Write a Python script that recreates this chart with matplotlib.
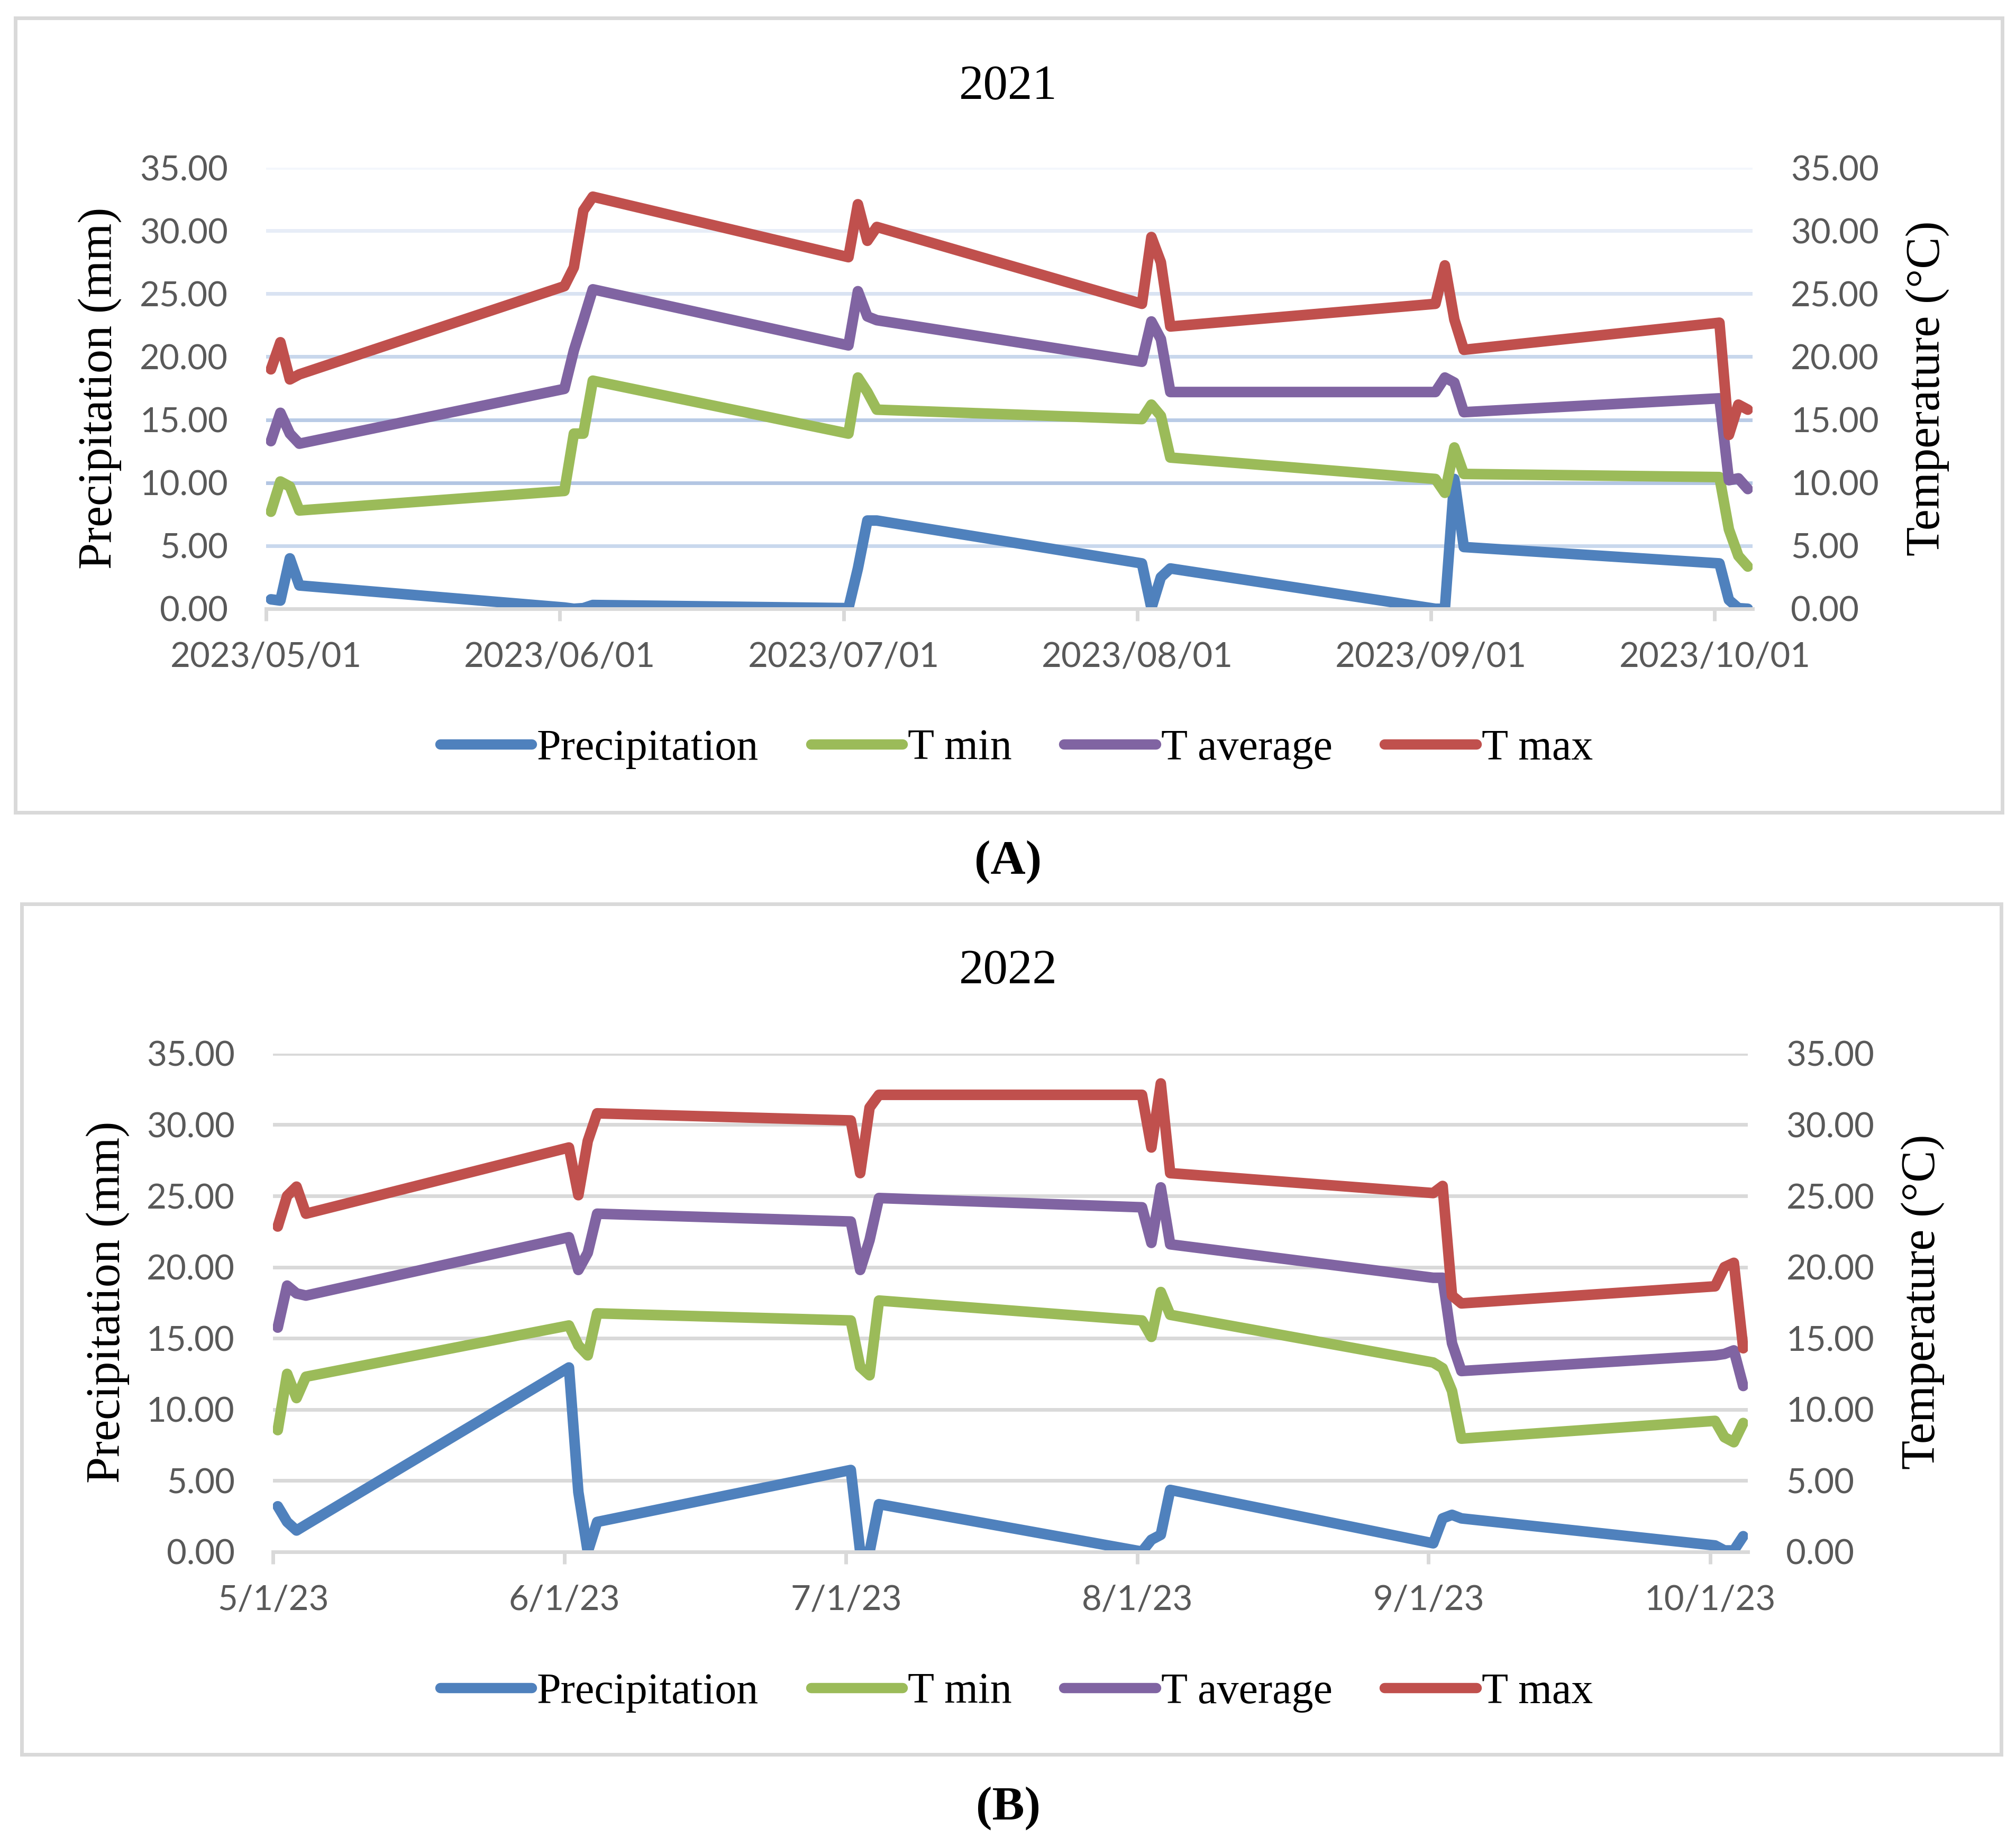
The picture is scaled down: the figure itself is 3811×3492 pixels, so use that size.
import matplotlib
matplotlib.use('Agg')
import matplotlib.pyplot as plt
import matplotlib.patches as patches
import pandas as pd

# observation dates (first four days of each month)
dates = ['2023-05-01', '2023-05-02', '2023-05-03', '2023-05-04',
         '2023-06-01', '2023-06-02', '2023-06-03', '2023-06-04',
         '2023-07-01', '2023-07-02', '2023-07-03', '2023-07-04',
         '2023-08-01', '2023-08-02', '2023-08-03', '2023-08-04',
         '2023-09-01', '2023-09-02', '2023-09-03', '2023-09-04',
         '2023-10-01', '2023-10-02', '2023-10-03', '2023-10-04']

month_starts = ['2023-05-01', '2023-06-01', '2023-07-01', '2023-08-01', '2023-09-01', '2023-10-01']
labels_2021 = ['2023/05/01', '2023/06/01', '2023/07/01', '2023/08/01', '2023/09/01', '2023/10/01']
labels_2022 = ['5/1/23', '6/1/23', '7/1/23', '8/1/23', '9/1/23', '10/1/23']
y_ticks = [0, 5, 10, 15, 20, 25, 30, 35]

# 2021
precip_2021 = [0.75, 0.65, 4.0, 1.85, 0.1, 0.0, 0.05, 0.3, 0.05, 3.2, 7.0, 7.0,
               3.6, 0.05, 2.5, 3.2, 0.0, 0.0, 10.3, 4.9, 3.6, 0.7, 0.05, 0.0]
tmin_2021 = [7.7, 10.1, 9.7, 7.8, 9.35, 13.9, 13.9, 18.1, 13.9, 18.35, 17.2, 15.8,
             15.05, 16.2, 15.3, 12.0, 10.3, 9.2, 12.8, 10.7, 10.45, 6.3, 4.2, 3.35]
tavg_2021 = [13.3, 15.55, 13.9, 13.1, 17.45, 20.5, 22.9, 25.35, 20.9, 25.2, 23.2, 22.9,
             19.6, 22.8, 21.4, 17.2, 17.2, 18.35, 17.95, 15.6, 16.7, 10.2, 10.35, 9.5]
tmax_2021 = [19.0, 21.15, 18.2, 18.6, 25.6, 27.1, 31.6, 32.7, 27.9, 32.1, 29.2, 30.3,
             24.2, 29.5, 27.5, 22.4, 24.2, 27.25, 22.95, 20.55, 22.7, 13.8, 16.2, 15.8]

# 2022
precip_2022 = [3.2, 2.1, 1.5, 1.9, 12.95, 4.2, 0.0, 2.1, 5.75, 0.0, 0.0, 3.35,
               0.02, 0.85, 1.2, 4.35, 0.6, 2.35, 2.6, 2.35, 0.45, 0.1, 0.1, 1.1]
tmin_2022 = [8.55, 12.5, 10.8, 12.3, 15.9, 14.5, 13.8, 16.75, 16.25, 13.0, 12.4, 17.65,
             16.25, 15.1, 18.25, 16.65, 13.3, 12.9, 11.3, 7.95, 9.2, 8.05, 7.7, 9.05]
tavg_2022 = [15.75, 18.7, 18.15, 18.0, 22.1, 19.8, 21.0, 23.75, 23.2, 19.8, 21.9, 24.85,
             24.2, 21.7, 25.6, 21.6, 19.25, 19.25, 14.65, 12.7, 13.8, 13.9, 14.15, 11.65]
tmax_2022 = [22.85, 25.0, 25.65, 23.75, 28.4, 25.05, 28.85, 30.8, 30.3, 26.6, 31.2, 32.1,
             32.1, 28.4, 32.9, 26.6, 25.2, 25.7, 18.0, 17.45, 18.65, 20.0, 20.3, 14.3]

C_PRE, C_MIN, C_AVG, C_MAX = '#4F81BD', '#9BBB59', '#8064A2', '#C0504D'
TICK_COL = '#595959'
SERIF = 'Liberation Serif'
SANS = 'Lato'

grid_2021 = ['#D9D9D9', '#C9D8ED', '#B3C6E3', '#B9CBE6', '#C8D7EC', '#D9E3F2', '#E7EDF7', '#F4F7FC']
grid_2022 = ['#D9D9D9'] * 8

x = pd.to_datetime(dates) + pd.Timedelta(hours=12)   # Excel puts points mid-day
x_start = pd.Timestamp('2023-05-01')
x_end = pd.Timestamp('2023-10-05')

fig = plt.figure(figsize=(38.12, 34.92), dpi=100)


def panel(rect, title, title_y, pre, tmin, tavg, tmax, tick_labels, grid_cols,
          ylab_x, ylab_y, leg_y, frame, tag, tag_y):
    ax = fig.add_axes(rect)
    ax2 = ax.twinx()
    for a in (ax, ax2):
        a.set_ylim(0, 35)
        a.set_xlim(x_start, x_end)
        for s in a.spines.values():
            s.set_visible(False)
        a.set_yticks(y_ticks)
        a.set_yticklabels([f'{v:.2f}' for v in y_ticks], fontsize=47, color=TICK_COL,
                          fontfamily=SANS)
        a.tick_params(axis='y', length=0, pad=52)
    for v, c in zip(y_ticks[1:], grid_cols[1:]):
        ax.axhline(v, color=c, lw=5, zorder=0)
    ax.spines['bottom'].set_visible(True)
    ax.spines['bottom'].set_color(grid_cols[0])
    ax.spines['bottom'].set_linewidth(5)
    ax.set_xticks(pd.to_datetime(month_starts))
    ax.set_xticklabels(tick_labels, fontsize=47, color=TICK_COL, fontfamily=SANS)
    ax.tick_params(axis='x', length=16.5, width=5, color=grid_cols[0], pad=28, direction='out')

    kw = dict(lw=14.4, solid_capstyle='round', solid_joinstyle='round')
    l1, = ax.plot(x, pre, color=C_PRE, label='Precipitation', **kw)
    l2, = ax2.plot(x, tmin, color=C_MIN, label='T min', **kw)
    l3, = ax2.plot(x, tavg, color=C_AVG, label='T average', **kw)
    l4, = ax2.plot(x, tmax, color=C_MAX, label='T max', **kw)

    fig.text(0.5, title_y, title, fontsize=67, fontfamily=SERIF, ha='center', va='center')
    fig.text(ylab_x[0], ylab_y, 'Precipitation (mm)', fontsize=65, fontfamily=SERIF,
             rotation=90, ha='center', va='center')
    fig.text(ylab_x[1], ylab_y, 'Temperature (°C)', fontsize=65, fontfamily=SERIF,
             rotation=90, ha='center', va='center')

    leg = fig.legend([l1, l2, l3, l4], ['Precipitation', 'T min', 'T average', 'T max'],
                     loc='center', bbox_to_anchor=(0.504, leg_y), ncol=4, frameon=False,
                     prop={'family': SERIF, 'size': 59}, handlelength=2.12,
                     handletextpad=0.12, columnspacing=1.2)
    for h in leg.get_lines():
        h.set_linewidth(14)
        h.set_solid_capstyle('round')

    fig.patches.append(patches.Rectangle((frame[0], frame[1]), frame[2] - frame[0],
                                         frame[3] - frame[1], transform=fig.transFigure,
                                         fill=False, edgecolor='#D9D9D9', lw=5))
    fig.text(0.5, tag_y, tag, fontsize=66, fontfamily=SERIF, fontweight='bold',
             ha='center', va='center')


panel([0.1320, 0.6704, 0.7371, 0.2388], '2021', 0.9528,
      precip_2021, tmin_2021, tavg_2021, tmax_2021, labels_2021, grid_2021,
      (0.0496, 0.9557), 0.7898, 0.5945, (0.0076, 0.5601, 0.9929, 0.9903), '(A)', 0.5332)

panel([0.1354, 0.1598, 0.7314, 0.2698], '2022', 0.4740,
      precip_2022, tmin_2022, tavg_2022, tmax_2022, labels_2022, grid_2022,
      (0.0535, 0.9536), 0.2951, 0.0836, (0.0108, 0.0502, 0.9924, 0.5106), '(B)', 0.0210)

fig.savefig('out.png', dpi=100, facecolor='white')
